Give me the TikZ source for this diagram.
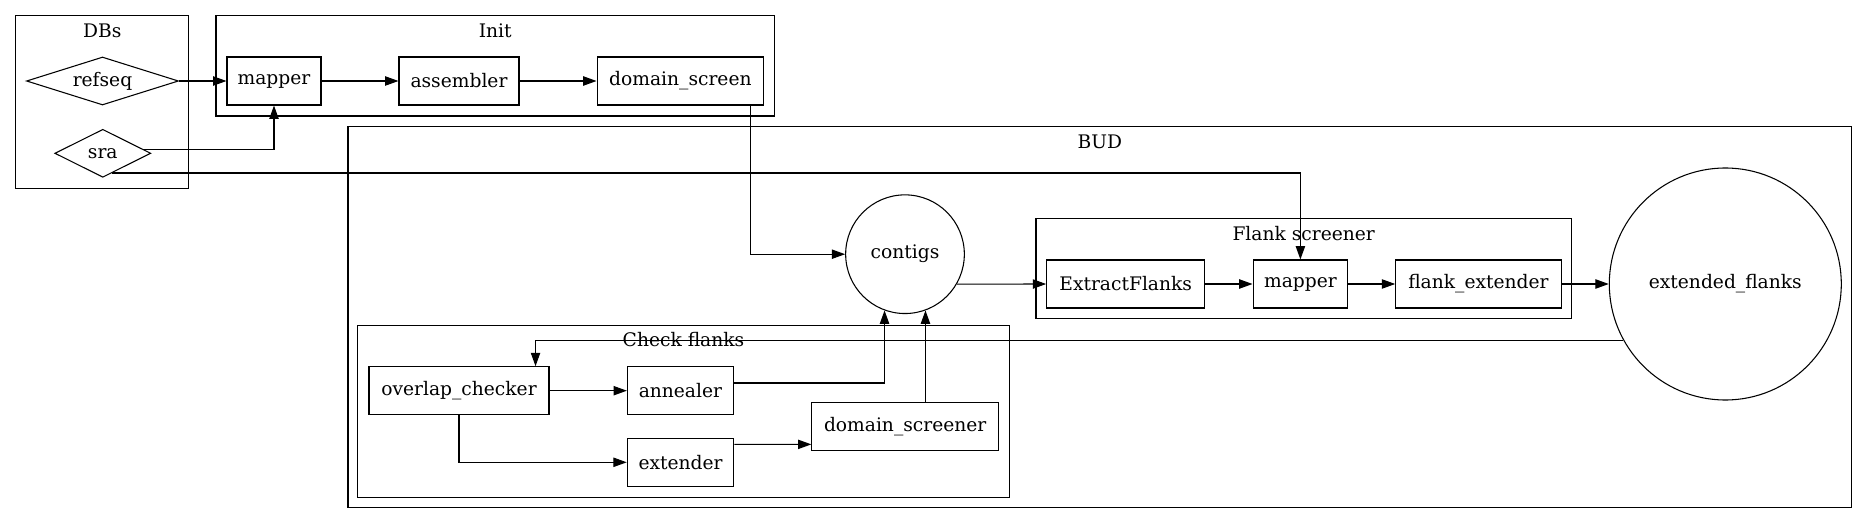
\documentclass[tikz,border=0pt]{standalone}
\usepackage{fontspec}
\setmainfont{DejaVu Serif}
\usetikzlibrary{arrows.meta,shapes.geometric}

\tikzset{
  procbox/.style={draw, rectangle, minimum height=36pt, inner xsep=8pt, line width=0.8pt},
  dbnode/.style={draw, diamond, inner sep=0pt, minimum height=36pt, line width=0.8pt},
  datanode/.style={draw, circle, inner sep=0pt, line width=0.8pt},
  cluster/.style={draw, line width=0.8pt},
  clusterlabel/.style={inner sep=0pt},
  edge/.style={-{Triangle[length=10pt,width=7pt]}, line width=0.8pt},
}

\begin{document}
\begin{tikzpicture}[x=0.75pt,y=-0.75pt,font=\fontsize{14pt}{17pt}\selectfont]
  \useasboundingbox (0,0) rectangle (1868,524);

  % clusters
  \draw[cluster] (15.8,15.3) rectangle (188.8,188.3);
  \node[clusterlabel] (dbslabel) at (102.3,31) {DBs};
  \draw[cluster] (216,15.3) rectangle (774.5,116);
  \node[clusterlabel] (initlabel) at (495.2,31) {Init};
  \draw[cluster] (348,126.7) rectangle (1851.6,507.7);
  \node[clusterlabel] (budlabel) at (1099.8,141.5) {BUD};
  \draw[cluster] (1036,218.7) rectangle (1571.4,318.7);
  \node[clusterlabel] (flanklabel) at (1303.7,233.5) {Flank screener};
  \draw[cluster] (357.9,325.3) rectangle (1009.2,497.3);
  \node[clusterlabel] (checklabel) at (683.5,340) {Check flanks};

  % databases
  \node[dbnode, aspect=3.17, minimum width=114pt] (refseq) at (102.5,81) {refseq};
  \node[dbnode, aspect=2, minimum width=72pt] (sra) at (102.8,153.3) {sra};

  % init steps
  \node[procbox, minimum width=70.5pt] (initmapper) at (274,81) {mapper};
  \node[procbox, minimum width=90pt] (assembler) at (459,81) {assembler};
  \node[procbox, minimum width=125pt] (dscreen) at (680.4,81) {domain\_screen};

  % BUD
  \node[datanode, minimum size=89pt] (contigs) at (905,254.2) {contigs};
  \node[procbox, minimum width=118.5pt] (extract) at (1125.7,284) {ExtractFlanks};
  \node[procbox, minimum width=71pt] (flankmapper) at (1300.4,284) {mapper};
  \node[procbox, minimum width=124pt] (flankext) at (1478.4,284) {flank\_extender};
  \node[datanode, minimum size=174pt] (extflanks) at (1725.3,284) {extended\_flanks};
  \node[procbox, minimum width=135pt] (overlap) at (459,390.7) {overlap\_checker};
  \node[procbox, minimum width=79.5pt] (annealer) at (680.4,390.7) {annealer};
  \node[procbox, minimum width=80pt] (extender) at (680.6,462.3) {extender};
  \node[procbox, minimum width=140pt] (dscreener) at (905.2,426.5) {domain\_screener};

  % connectors
  \draw[edge] (refseq) -- (initmapper);
  \draw[edge] (initmapper) -- (assembler);
  \draw[edge] (assembler) -- (dscreen);
  \draw[edge] (sra.6) -| (initmapper.south);
  \draw[edge] (sra.-64) -| (flankmapper.north);
  \draw[edge] ([xshift=52.5pt]dscreen.south) |- (contigs.west);
  \draw[edge] (contigs.-30) -- (extract.west);
  \draw[edge] (extract) -- (flankmapper);
  \draw[edge] (flankmapper) -- (flankext);
  \draw[edge] (flankext) -- (extflanks);
  \draw[edge] (extflanks.209.4) -| ([xshift=-10.5pt]overlap.north east);
  \draw[edge] (overlap) -- (annealer);
  \draw[edge] (overlap.south) |- (extender.west);
  \draw[edge] ([yshift=5.8pt]annealer.east) -| (contigs.250);
  \draw[edge] (contigs.290 |- dscreener.north) -- (contigs.290);
  \draw[edge] ([yshift=13.4pt]extender.east) -- ([yshift=-13.4pt]dscreener.west);
\end{tikzpicture}
\end{document}
